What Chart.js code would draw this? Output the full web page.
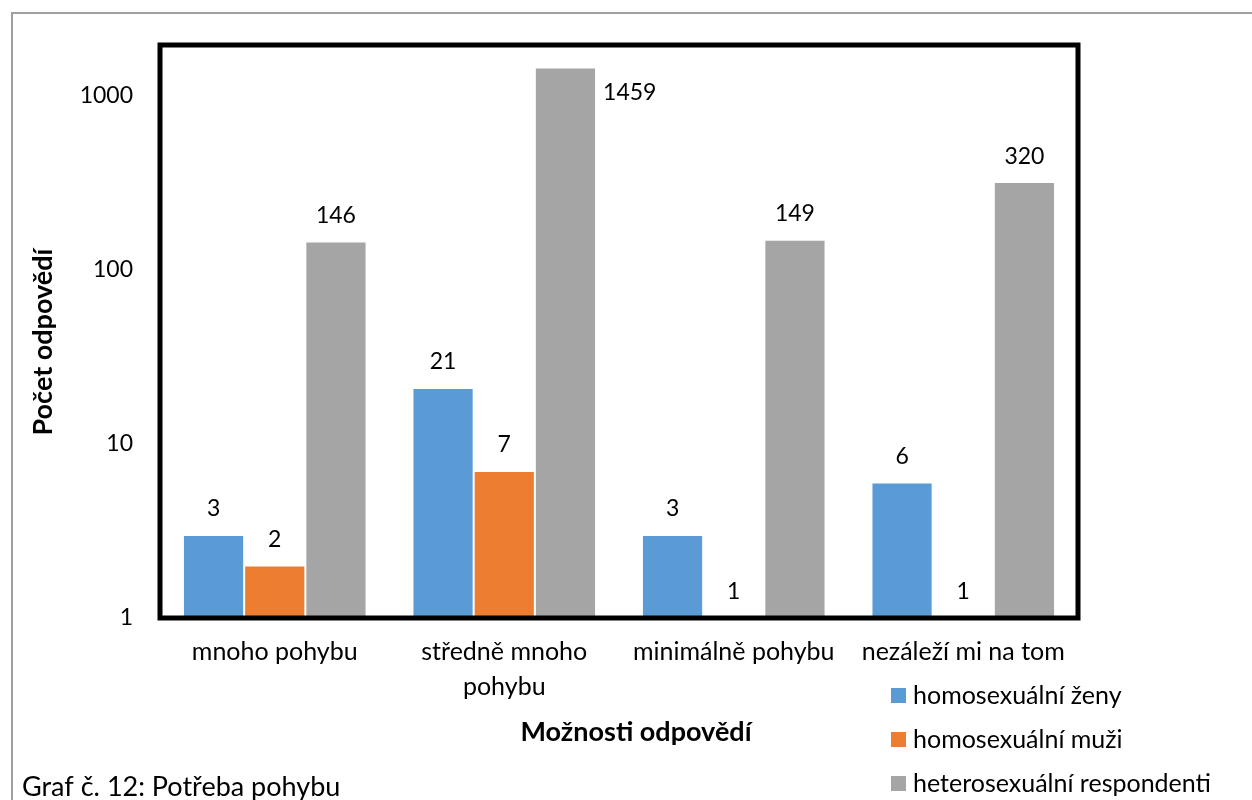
<!DOCTYPE html>
<html lang="cs">
<head>
<meta charset="utf-8">
<title>Graf č. 12: Potřeba pohybu</title>
<script src="https://cdn.jsdelivr.net/npm/chart.js@4"></script>
<style>
  html, body { margin: 0; padding: 0; background: #fff; }
  #wrap { width: 1252px; height: 800px; position: relative; }
</style>
</head>
<body>
<div id="wrap"><canvas id="graf" width="1252" height="800"></canvas></div>
<script>
// data grafu
const kategorie = ['mnoho pohybu', ['středně mnoho', 'pohybu'], 'minimálně pohybu', 'nezáleží mi na tom'];
const zeny = [3, 21, 3, 6];
const muzi = [2, 7, 1, 1];
const hetero = [146, 1459, 149, 320];
const nazvySerii = ['homosexuální ženy', 'homosexuální muži', 'heterosexuální respondenti'];
const barvy = ['#5B9BD5', '#ED7D31', '#A5A5A5'];
const yTicks = [1, 10, 100, 1000];

const FONT = 'Lato, "Open Sans", sans-serif';

// ramecek, popisky os, legenda a titulek
const dekorace = {
  id: 'dekorace',
  beforeDraw(chart) {
    const c = chart.ctx;
    c.save();
    c.fillStyle = '#fff';
    c.fillRect(0, 0, chart.width, chart.height);
    c.strokeStyle = '#a0a0a0';
    c.lineWidth = 2;
    c.strokeRect(12, 13, 1400, 1000);
    c.restore();
  },
  afterDatasetsDraw(chart) {
    const c = chart.ctx;
    const a = chart.chartArea;
    c.save();

    // hodnoty nad sloupci
    c.fillStyle = '#000';
    c.font = '23px ' + FONT;
    c.textBaseline = 'middle';
    chart.data.datasets.forEach((ds, i) => {
      chart.getDatasetMeta(i).data.forEach((bar, j) => {
        const txt = String(ds.data[j]);
        let y = bar.y - 26;
        if (y < a.top + 20) {
          c.textAlign = 'left';
          c.fillText(txt, bar.x + bar.width / 2 + 7, bar.y + 25);
        } else {
          c.textAlign = 'center';
          c.fillText(txt, bar.x, y);
        }
      });
    });

    // cerny ramecek plochy grafu
    c.strokeStyle = '#000';
    c.lineWidth = 5;
    c.strokeRect(a.left, a.top, a.right - a.left, a.bottom - a.top);

    // nazvy os
    c.font = 'bold 27px ' + FONT;
    c.textAlign = 'center';
    c.fillText('Možnosti odpovědí', 636, 732);
    c.save();
    c.translate(43, 342);
    c.rotate(-Math.PI / 2);
    c.fillText('Počet odpovědí', 0, 0);
    c.restore();

    // legenda
    c.font = '25px ' + FONT;
    c.textAlign = 'left';
    nazvySerii.forEach((n, i) => {
      const yy = 695 + i * 44;
      c.fillStyle = barvy[i];
      c.fillRect(891, yy - 7, 15, 15);
      c.fillStyle = '#000';
      c.fillText(n, 913, yy + 1);
    });

    // titulek grafu
    c.font = '27px ' + FONT;
    c.fillText('Graf č. 12: Potřeba pohybu', 22, 787);
    c.restore();
  }
};

const ctx = document.getElementById('graf').getContext('2d');
new Chart(ctx, {
  type: 'bar',
  data: {
    labels: kategorie,
    datasets: [zeny, muzi, hetero].map((d, i) => ({
      label: nazvySerii[i],
      data: d,
      backgroundColor: barvy[i],
      borderColor: 'rgba(255,255,255,0.6)',
      borderWidth: 1,
      categoryPercentage: 0.8,
      barPercentage: 1.0
    }))
  },
  options: {
    responsive: false,
    animation: false,
    devicePixelRatio: 1,
    layout: { padding: { left: 0, top: 45, right: 174, bottom: 0 } },
    plugins: {
      legend: { display: false },
      tooltip: { enabled: false }
    },
    scales: {
      x: {
        grid: { display: false, drawTicks: false },
        border: { display: false },
        ticks: {
          color: '#000',
          font: { family: FONT, size: 25, lineHeight: 1.4 },
          padding: 16,
          maxRotation: 0,
          autoSkip: false
        },
        afterFit(s) { s.height = 182; }
      },
      y: {
        type: 'logarithmic',
        min: 1,
        max: 1964,
        grid: { display: false, drawTicks: false },
        border: { display: false },
        afterBuildTicks(s) { s.ticks = yTicks.map(v => ({ value: v })); },
        ticks: {
          color: '#000',
          font: { family: FONT, size: 23 },
          padding: 27,
          callback: v => String(v)
        },
        afterFit(s) { s.width = 160; }
      }
    }
  },
  plugins: [dekorace]
});
</script>
</body>
</html>
